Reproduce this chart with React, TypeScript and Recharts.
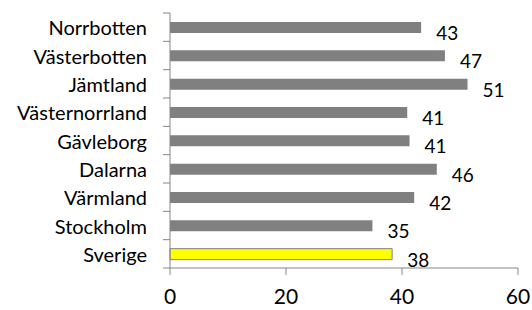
import React from "react";
import { BarChart, Bar, XAxis, YAxis, Cell, LabelList } from "recharts";

const regions = ["Norrbotten", "Västerbotten", "Jämtland", "Västernorrland", "Gävleborg", "Dalarna", "Värmland", "Stockholm", "Sverige"];
const values = [43.3, 47.4, 51.3, 40.9, 41.3, 46.0, 42.1, 34.9, 38.3];
const xTicks = [0, 20, 40, 60];

const data = regions.map((name, i) => ({ name, value: values[i] }));

const W = 532;
const H = 310;
const M = { top: 13, right: 14, bottom: 0, left: 0 };
const Y_AXIS_W = 170;
const X_AXIS_H = 42;
const PLOT_H = H - M.top - M.bottom - X_AXIS_H;
const STEP = PLOT_H / regions.length;
const AXIS_COLOR = "#868686";
const FONT = "Lato, 'Open Sans', sans-serif";

const CategoryTick = (props: any) => {
  const { y, payload, index } = props;
  const ax = Y_AXIS_W;
  return (
    <g>
      <line x1={ax - 7} x2={ax} y1={y - STEP / 2} y2={y - STEP / 2} stroke={AXIS_COLOR} strokeWidth={1} />
      {index === regions.length - 1 && (
        <line x1={ax - 7} x2={ax} y1={y + STEP / 2} y2={y + STEP / 2} stroke={AXIS_COLOR} strokeWidth={1} />
      )}
      <text x={ax - 23} y={y} textAnchor="end" dominantBaseline="central" fontFamily={FONT} fontSize={20} fill="#000">
        {payload.value}
      </text>
    </g>
  );
};

const ValueLabel = (props: any) => {
  const { x, y, width, height, value } = props;
  return (
    <text
      x={Number(x) + Number(width) + 15}
      y={Number(y) + Number(height) / 2 + 5}
      dominantBaseline="central"
      fontFamily={FONT}
      fontSize={19}
      fill="#000"
    >
      {Math.round(Number(value))}
    </text>
  );
};

export default function App() {
  return (
    <div style={{ position: "absolute", left: 0, top: 0, width: W, height: H, background: "#fff" }}>
      <BarChart width={W} height={H} data={data} layout="vertical" margin={M} barSize={11}>
        <XAxis
          type="number"
          domain={[0, 60]}
          ticks={xTicks}
          height={X_AXIS_H}
          interval={0}
          stroke={AXIS_COLOR}
          tickSize={7}
          tickMargin={14}
          tick={{ fill: "#000", fontFamily: FONT, fontSize: 21 }}
        />
        <YAxis
          type="category"
          dataKey="name"
          width={Y_AXIS_W}
          interval={0}
          stroke={AXIS_COLOR}
          tickLine={false}
          tick={<CategoryTick />}
        />
        <Bar dataKey="value" isAnimationActive={false}>
          {data.map((d) => (
            <Cell
              key={d.name}
              fill={d.name === "Sverige" ? "#ffff00" : "#808080"}
              stroke={d.name === "Sverige" ? "#808080" : "none"}
              strokeWidth={1}
            />
          ))}
          <LabelList dataKey="value" content={<ValueLabel />} />
        </Bar>
      </BarChart>
    </div>
  );
}
